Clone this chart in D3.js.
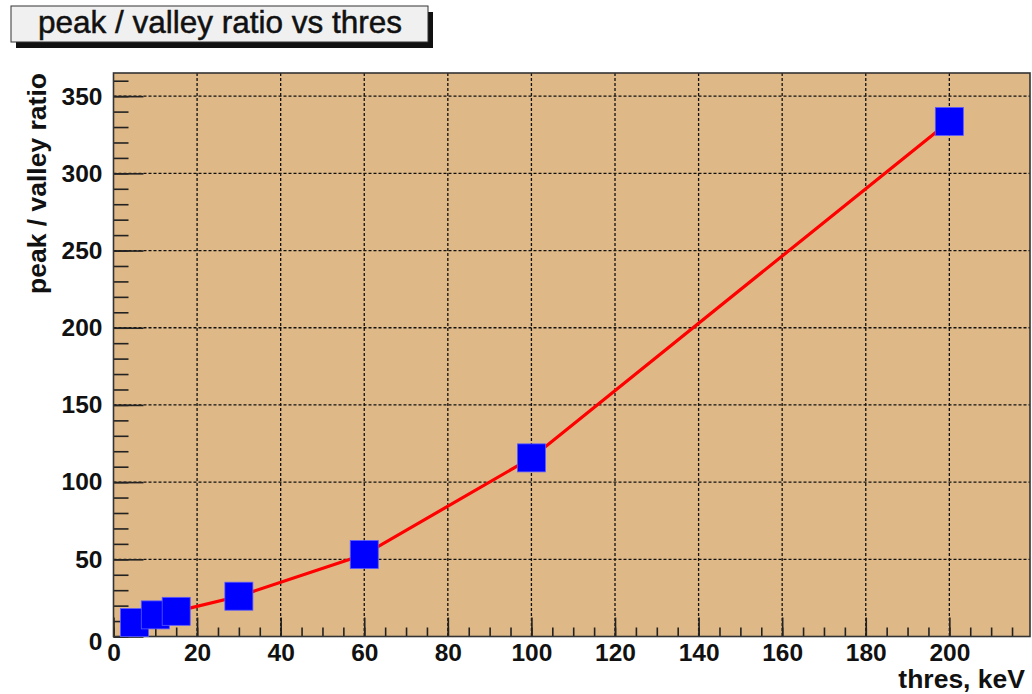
<!DOCTYPE html>
<html>
<head>
<meta charset="utf-8">
<script src="https://cdn.jsdelivr.net/npm/d3@7"></script>
<style>
  body { margin: 0; background: #fff; }
  text { font-family: "Liberation Sans", Arial, Helvetica, sans-serif; }
</style>
</head>
<body>
<script>
// data
var thres = [5, 10, 15, 30, 60, 100, 200];
var ratio = [9.0, 14.0, 16.3, 26.1, 53.1, 115.7, 333.6];

var xMajor = d3.range(0, 201, 20);
var xMinor = d3.range(0, 216, 5);
var yMajor = d3.range(0, 351, 50);
var yMinor = d3.range(0, 361, 10);

var title = 'peak / valley ratio vs thres';
var xTitle = 'thres, keV';
var yTitle = 'peak / valley ratio';

var W = 1032, H = 694;
// frame edges (note: "top" is a reserved window prop, so use fTop etc)
var fLeft = 113.5, fTop = 73, fRight = 1030, fBottom = 636.5;

var svg = d3.select('body').append('svg')
    .attr('width', W)
    .attr('height', H);

var x = d3.scaleLinear().domain([0, 219.3]).range([fLeft, fRight]);
var y = d3.scaleLinear().domain([0, 365]).range([fBottom, fTop]);

// frame fill
svg.append('rect')
  .attr('x', fLeft).attr('y', fTop)
  .attr('width', fRight - fLeft).attr('height', fBottom - fTop)
  .attr('fill', '#deb887');

// grid
svg.append('g').selectAll('line')
  .data(xMajor.filter(function(d) { return d > 0; }))
  .enter().append('line')
    .attr('x1', function(d) { return x(d); })
    .attr('x2', function(d) { return x(d); })
    .attr('y1', fTop).attr('y2', fBottom)
    .attr('stroke', '#111').attr('stroke-width', 1.3)
    .attr('stroke-dasharray', '3,2');

svg.append('g').selectAll('line')
  .data(yMajor.filter(function(d) { return d > 0; }))
  .enter().append('line')
    .attr('y1', function(d) { return y(d); })
    .attr('y2', function(d) { return y(d); })
    .attr('x1', fLeft).attr('x2', fRight)
    .attr('stroke', '#111').attr('stroke-width', 1.3)
    .attr('stroke-dasharray', '3,2');

// axes
var gx = svg.append('g').attr('transform', 'translate(0,' + fBottom + ')');
gx.call(d3.axisBottom(x).tickValues(xMinor).tickSize(-9).tickFormat(''));
var gx2 = svg.append('g').attr('transform', 'translate(0,' + fBottom + ')');
gx2.call(d3.axisBottom(x).tickValues(xMajor).tickSize(-19).tickPadding(7));

var gy = svg.append('g').attr('transform', 'translate(' + fLeft + ',0)');
gy.call(d3.axisLeft(y).tickValues(yMinor).tickSize(-15).tickFormat(''));
var gy2 = svg.append('g').attr('transform', 'translate(' + fLeft + ',0)');
gy2.call(d3.axisLeft(y).tickValues(yMajor).tickSize(-30).tickPadding(11));

svg.selectAll('.domain').remove();
svg.selectAll('.tick line').attr('stroke', '#222').attr('stroke-width', 1.6);
svg.selectAll('.tick text')
  .attr('fill', '#111')
  .style('font-size', '24.5px')
  .style('font-weight', 'bold');
gy2.selectAll('.tick text').filter(function(d) { return d === 0; }).attr('dy', '0.55em');

// frame border
svg.append('rect')
  .attr('x', fLeft).attr('y', fTop)
  .attr('width', fRight - fLeft).attr('height', fBottom - fTop)
  .attr('fill', 'none').attr('stroke', '#333').attr('stroke-width', 1.6);

// curve
var line = d3.line()
  .x(function(d, i) { return x(thres[i]); })
  .y(function(d, i) { return y(ratio[i]); });

svg.append('path')
  .attr('d', line(thres))
  .attr('fill', 'none')
  .attr('stroke', '#ff0000')
  .attr('stroke-width', 3.2);

svg.append('g').selectAll('rect')
  .data(thres)
  .enter().append('rect')
    .attr('x', function(d) { return x(d) - 14; })
    .attr('y', function(d, i) { return y(ratio[i]) - 14; })
    .attr('width', 28).attr('height', 28)
    .attr('fill', '#0000ff')
    .attr('stroke', '#5a5aff').attr('stroke-width', 0.8);

// axis titles
svg.append('text')
  .attr('x', 1025).attr('y', 688)
  .attr('text-anchor', 'end')
  .style('font-size', '26.5px').style('font-weight', 'bold')
  .attr('fill', '#111')
  .text(xTitle);

svg.append('text')
  .attr('transform', 'translate(46,' + fTop + ') rotate(-90)')
  .attr('text-anchor', 'end')
  .style('font-size', '26.5px').style('font-weight', 'bold')
  .attr('fill', '#111')
  .text(yTitle);

// title box
svg.append('rect')
  .attr('x', 16).attr('y', 12).attr('width', 417).attr('height', 36)
  .attr('fill', '#111');
svg.append('rect')
  .attr('x', 11).attr('y', 6).attr('width', 417).attr('height', 36)
  .attr('fill', '#f0f0f0').attr('stroke', '#333').attr('stroke-width', 1);
svg.append('text')
  .attr('x', 220).attr('y', 32.5)
  .attr('text-anchor', 'middle')
  .style('font-size', '31.5px')
  .attr('fill', '#111')
  .attr('stroke', '#111').attr('stroke-width', 0.5)
  .text(title);
</script>
</body>
</html>
